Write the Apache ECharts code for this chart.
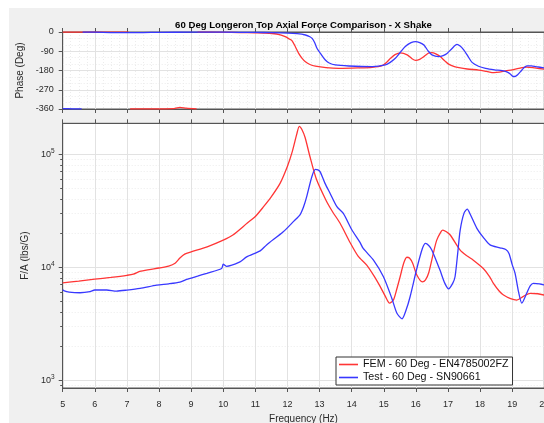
<!DOCTYPE html>
<html><head><meta charset="utf-8">
<script src="https://cdn.jsdelivr.net/npm/echarts@6/dist/echarts.min.js"></script>
<style>
html,body{margin:0;padding:0;background:#fff;}
#bg{position:absolute;left:9px;top:8px;width:535px;height:415px;background:#f0f0f0;}
#c{position:absolute;left:0;top:0;width:544px;height:423px;}
</style></head>
<body><div id="bg"></div><div id="c"></div>
<script>
// ---------- data ----------
const titleText = '60 Deg Longeron Top Axial Force Comparison - X Shake';
const nameFEM = 'FEM - 60 Deg - EN4785002FZ';
const nameTest = 'Test - 60 Deg - SN90661';
const freqTicks = [5,6,7,8,9,10,11,12,13,14,15,16,17,18,19,20];
const phaseTicks = [0,-90,-180,-270,-360];
const magDecades = [1000,10000,100000];
const magMinor = [900,2000,3000,4000,5000,6000,7000,8000,9000,20000,30000,40000,50000,60000,70000,80000,90000];

const femMagFreq = [5.0,5.5,6.0,6.5,7.0,7.2,7.4,7.7,8.0,8.3,8.5,8.65,8.8,9.0,9.5,10.0,10.3,10.75,11.0,11.25,11.5,11.77,12.0,12.15,12.29,12.37,12.45,12.55,12.7,12.9,13.2,13.4,13.64,13.95,14.2,14.47,14.7,14.89,15.05,15.18,15.3,15.4,15.51,15.62,15.72,15.8,15.9,16.03,16.2,16.3,16.4,16.55,16.65,16.78,16.84,16.95,17.07,17.38,17.6,17.79,18.1,18.3,18.41,18.6,18.73,18.95,19.14,19.35,19.56,19.8,20.0];
const femMagVal = [7250,7500,7800,8100,8450,8650,9150,9500,9800,10200,10800,12000,13000,13600,15100,17300,19200,24500,28000,34000,42000,55000,78000,105000,150000,176000,165000,140000,95000,60000,39000,31000,24400,16500,12500,10400,8300,6700,5500,4800,5100,6300,8200,10800,12200,12000,10800,8500,7400,7700,8900,13500,17300,20500,21200,20500,19200,14100,12500,11500,9700,8200,7200,6100,5650,5250,5100,5500,5850,5800,5650];

const testMagFreq = [5.0,5.05,5.2,5.54,5.85,6.0,6.37,6.68,7.0,7.41,7.93,8.3,8.65,8.86,9.2,9.49,9.95,10.0,10.1,10.52,10.73,11.15,11.35,11.87,12.2,12.39,12.5,12.6,12.76,12.87,12.95,13.02,13.17,13.33,13.54,13.74,14.0,14.26,14.36,14.68,14.99,15.25,15.41,15.57,15.7,15.82,16.03,16.2,16.3,16.4,16.5,16.75,16.9,17.02,17.15,17.22,17.3,17.38,17.5,17.6,17.7,17.9,18.1,18.31,18.62,18.8,18.9,19.0,19.09,19.2,19.3,19.45,19.56,19.66,19.85,20.0];
const testMagVal = [6300,6150,6000,5920,6050,6260,6260,6130,6250,6470,6930,7100,7350,7780,8300,8800,9700,10600,10150,11100,12300,13900,15700,20500,25500,29000,34000,42000,63000,73000,72500,69500,55000,44800,34200,29800,21500,16500,14600,11500,8200,5300,3900,3480,4200,5460,9700,14500,16200,15500,14100,9400,7200,6400,7200,8200,13000,21200,30000,32500,29000,22000,18300,15700,14800,14300,13200,10500,8800,6000,4800,5850,6800,7170,7100,6930];

const femPhaseFreq = [5.0,5.5,6.0,6.5,7.05,7.07,7.1,7.6,8.2,8.5,8.65,8.85,9.17,9.19,9.2,10.0,10.5,11.0,11.3,11.52,11.75,11.93,12.05,12.14,12.25,12.35,12.45,12.56,12.7,12.87,13.2,13.6,14.2,14.64,14.95,15.1,15.21,15.35,15.52,15.73,15.88,15.99,16.12,16.25,16.4,16.5,16.62,16.76,16.9,17.02,17.2,17.34,17.6,17.96,18.2,18.43,18.6,18.79,19.0,19.2,19.45,19.7,20.0];
const femPhaseVal = [-0.5,-0.5,-0.7,-0.8,-0.8,null,-359.5,-359.5,-359,-357,-352,-356,-359.5,null,-0.5,-1.5,-2.5,-4,-5,-7,-12,-22,-32,-40,-70,-100,-122,-139,-152,-160,-167,-170,-168,-165,-157,-140,-123,-106,-98,-107,-125,-133,-128,-115,-98,-96,-102,-115,-135,-150,-162,-167,-173,-178,-184,-190,-188,-182,-177,-170,-164,-168,-174];

const testPhaseFreq = [5.0,5.3,5.59,5.6,5.62,6.0,6.5,7.0,7.5,8.0,9.0,10.0,11.0,11.5,12.0,12.3,12.56,12.7,12.77,12.85,12.92,13.05,13.18,13.3,13.49,13.91,14.64,15.05,15.2,15.36,15.5,15.67,15.85,15.99,16.12,16.25,16.38,16.5,16.71,16.85,16.97,17.12,17.28,17.38,17.49,17.62,17.75,17.95,18.17,18.45,18.69,18.85,18.94,19.03,19.1,19.17,19.26,19.36,19.46,19.6,19.75,20.0];
const testPhaseVal = [-358,-359,-359.5,null,-0.5,-1,-2.5,-3,-2.5,-1.5,-1,-1,-2,-3,-5,-8,-14,-22,-30,-50,-76,-105,-131,-145,-154,-159,-162,-154,-142,-123,-98,-68,-50,-45,-50,-61,-88,-107,-115,-110,-100,-78,-58,-66,-84,-113,-142,-160,-170,-177,-181,-188,-196,-208,-207,-200,-185,-168,-158,-158,-162,-168];

// ---------- build ----------
const pairs = (xs, ys) => xs.map((x, i) => [x, ys[i]]);
const RED = '#ff3535', BLUE = '#3838ff';
const FONT = '"Liberation Sans", Arial, Helvetica, sans-serif';
const AX = '#555', GRIDC = '#e2e2e2', MINC = '#ececec', TXT = '#2a2a2a';
const GL = 62.7, GW = 481.6;

const chart = echarts.init(document.getElementById('c'), null, {renderer: 'canvas'});

const baseX = (grid, extra) => Object.assign({
  gridIndex: grid, type: 'value', min: freqTicks[0], max: freqTicks[freqTicks.length - 1], interval: 1,
  axisLine: {show: true, onZero: false, lineStyle: {color: AX, width: 1}},
  axisTick: {show: true, length: 4, lineStyle: {color: AX}},
  axisLabel: {show: false},
  splitLine: {show: false}
}, extra);

const option = {
  animation: false,
  textStyle: {fontFamily: FONT},
  graphic: [{
    type: 'text', x: 303.5, y: 20, z: 100,
    style: {text: titleText, textAlign: 'center', textVerticalAlign: 'top', fill: '#000',
            font: 'bold 9.6px ' + FONT}
  }],
  grid: [
    {left: GL, top: 32, width: GW, height: 77, show: true, backgroundColor: '#fff', borderColor: AX, borderWidth: 1,
     containLabel: false, outerBoundsMode: 'none'},
    {left: GL, top: 123.3, width: GW, height: 264.7, show: true, backgroundColor: '#fff', borderColor: AX, borderWidth: 1,
     containLabel: false, outerBoundsMode: 'none'}
  ],
  xAxis: [
    baseX(0, {
      splitLine: {show: true, lineStyle: {color: GRIDC, width: 1}},
      minorTick: {show: false, splitNumber: 4},
      minorSplitLine: {show: true, lineStyle: {color: MINC, width: 1, type: [1, 2]}}
    }),
    baseX(0, {position: 'top'}),
    baseX(1, {
      splitLine: {show: true, lineStyle: {color: GRIDC, width: 1}},
      axisLabel: {show: true, margin: 12, fontSize: 9, color: TXT, fontFamily: FONT},
      name: 'Frequency (Hz)', nameLocation: 'middle', nameGap: 24,
      nameTextStyle: {fontSize: 10, color: TXT, fontFamily: FONT}
    }),
    baseX(1, {position: 'top'})
  ],
  yAxis: [
    {
      gridIndex: 0, type: 'value', min: phaseTicks[phaseTicks.length - 1], max: phaseTicks[0], interval: 90,
      name: 'Phase (Deg)', nameLocation: 'middle', nameGap: 30,
      nameTextStyle: {fontSize: 10, color: TXT, fontFamily: FONT},
      axisLine: {show: true, onZero: false, lineStyle: {color: AX}},
      axisTick: {show: true, length: 4, lineStyle: {color: AX}},
      axisLabel: {fontSize: 9, color: TXT, margin: 9, fontFamily: FONT},
      splitLine: {show: true, lineStyle: {color: GRIDC}},
      minorTick: {show: false, splitNumber: 3},
      minorSplitLine: {show: true, lineStyle: {color: MINC, type: [1, 2]}}
    },
    {
      gridIndex: 1, type: 'log', logBase: 10, min: 850, max: 187000, position: 'left',
      name: 'F/A (lbs/G)', nameLocation: 'middle', nameGap: 26,
      nameTextStyle: {fontSize: 10, color: TXT, fontFamily: FONT},
      axisLine: {show: true, onZero: false, lineStyle: {color: AX}},
      axisTick: {show: true, length: 4, lineStyle: {color: AX}, customValues: magDecades},
      axisLabel: {
        customValues: magDecades, margin: 8, fontFamily: FONT,
        formatter: v => {
          const e = Math.round(Math.log10(v));
          if (Math.abs(Math.log10(v) - e) > 1e-6) return '';
          return '{b|10}{s|' + e + '}';
        },
        rich: {
          b: {fontSize: 9, color: TXT, lineHeight: 12, verticalAlign: 'middle', fontFamily: FONT},
          s: {fontSize: 6.5, color: TXT, lineHeight: 12, verticalAlign: 'top', padding: [0, 0, 5, 0], fontFamily: FONT}
        }
      },
      splitLine: {show: true, lineStyle: {color: GRIDC}}
    },
    {
      gridIndex: 1, type: 'log', logBase: 10, min: 850, max: 187000, position: 'left', offset: 0,
      axisLine: {show: false},
      axisTick: {show: true, length: 2.5, lineStyle: {color: AX}, customValues: magMinor},
      axisLabel: {show: false, customValues: magMinor},
      splitLine: {show: true, lineStyle: {color: MINC, type: [1, 2]}}
    }
  ],
  legend: {
    data: [nameFEM, nameTest], orient: 'vertical', left: 336, top: 357,
    icon: 'rect', itemWidth: 19, itemHeight: 1.6, itemGap: 2,
    padding: [2, 4, 2, 3], borderColor: '#333', borderWidth: 1, backgroundColor: '#fff',
    selectedMode: false,
    textStyle: {fontSize: 10.7, color: '#111', fontFamily: FONT, padding: [0, 0, 0, 0]}
  },
  series: [
    {name: nameFEM, type: 'line', xAxisIndex: 0, yAxisIndex: 0, data: pairs(femPhaseFreq, femPhaseVal),
     showSymbol: false, symbol: 'none', smooth: 0.25, clip: false, connectNulls: false,
     color: RED, lineStyle: {color: RED, width: 1.3}, z: 3},
    {name: nameTest, type: 'line', xAxisIndex: 0, yAxisIndex: 0, data: pairs(testPhaseFreq, testPhaseVal),
     showSymbol: false, symbol: 'none', smooth: 0.25, clip: false, connectNulls: false,
     color: BLUE, lineStyle: {color: BLUE, width: 1.3}, z: 4},
    {name: nameFEM, type: 'line', xAxisIndex: 2, yAxisIndex: 1, data: pairs(femMagFreq, femMagVal),
     showSymbol: false, symbol: 'none', smooth: 0.25, color: RED, lineStyle: {color: RED, width: 1.3}, z: 3},
    {name: nameTest, type: 'line', xAxisIndex: 2, yAxisIndex: 1, data: pairs(testMagFreq, testMagVal),
     showSymbol: false, symbol: 'none', smooth: 0.25, color: BLUE, lineStyle: {color: BLUE, width: 1.3}, z: 4}
  ]
};
chart.setOption(option);
</script>
</body></html>
